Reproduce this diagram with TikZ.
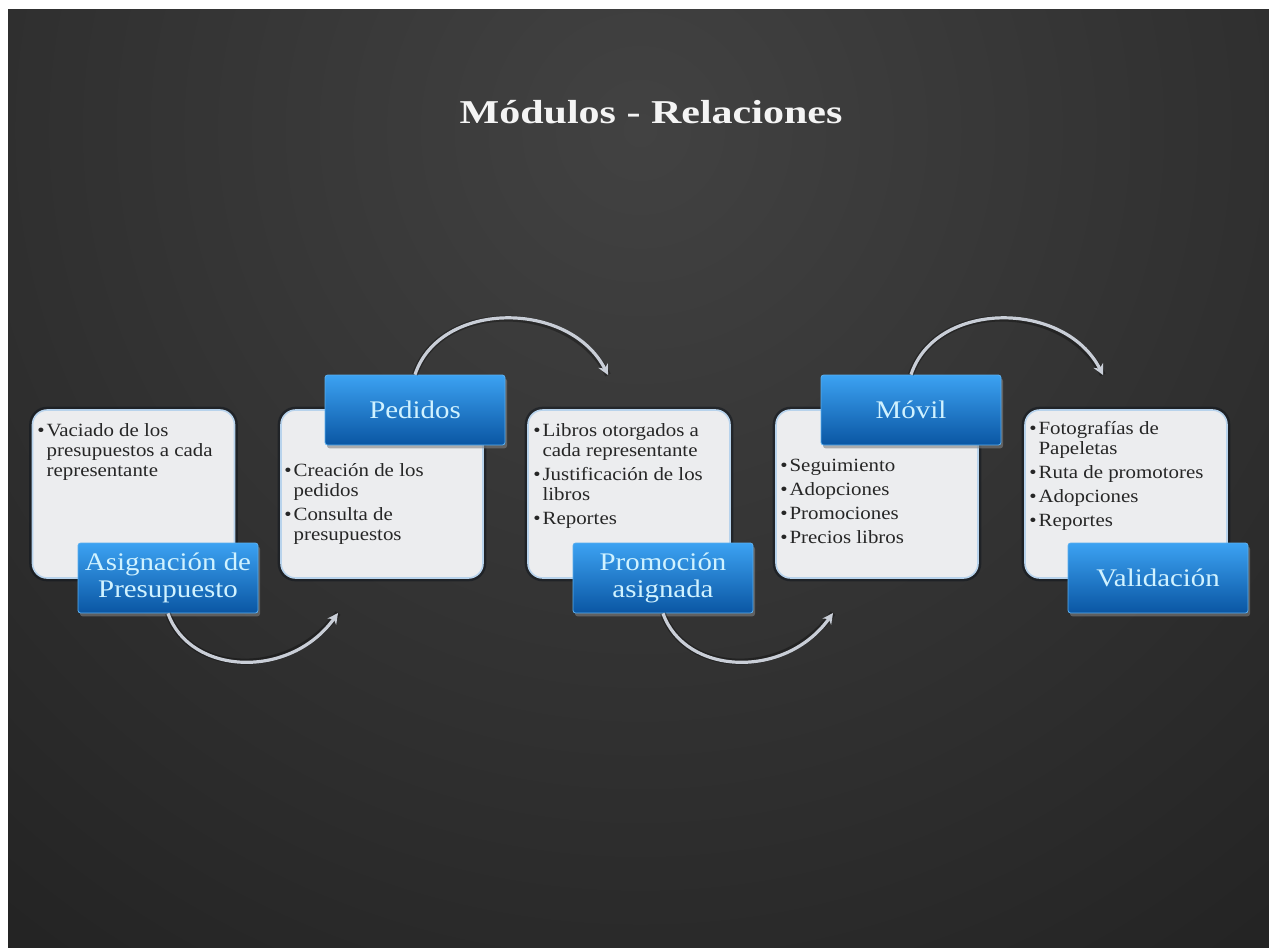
\documentclass[tikz,border=0pt]{standalone}
\usepackage{fontspec}
\setmainfont{Liberation Serif}
\newfontfamily\boxfont[FakeStretch=1.12]{Liberation Serif}
\newfontfamily\labfont[FakeStretch=1.14]{Liberation Serif}
\newfontfamily\titfont[FakeStretch=1.26]{Liberation Serif}
\usetikzlibrary{shadows,arrows.meta}
\definecolor{bgdark}{HTML}{1D1D1D}
\definecolor{bglight}{HTML}{424242}
\definecolor{boxfill}{HTML}{ECEDEF}
\definecolor{boxedge}{HTML}{B8D3EC}
\definecolor{boxglow}{HTML}{0E141C}
\definecolor{boxtext}{HTML}{262626}
\definecolor{labtop}{HTML}{3CA2F2}
\definecolor{labbot}{HTML}{0A56A3}
\definecolor{labedge}{HTML}{5AAEEE}
\definecolor{labtext}{HTML}{D0F2FF}
\definecolor{titcol}{HTML}{F4F4F4}
\definecolor{arrcol}{HTML}{C9CED7}
\newcommand\bul{\makebox[7pt][l]{•}}
\newcommand\ind{\hspace*{7pt}}
\newcommand\boxtxt[1]{\parbox[t]{160pt}{\boxfont\fontsize{14}{15}\selectfont\raggedright #1}}
\begin{document}
\begin{tikzpicture}[x=0.75pt,y=-0.75pt,
  lightbox/.style={rectangle, rounded corners=11pt, fill=boxfill, draw=boxedge, line width=1.2pt,
    minimum width=151.5pt, minimum height=126pt, inner sep=0pt,
    preaction={draw=boxglow, line width=5pt, opacity=0.5}},
  labelbox/.style={rectangle, rounded corners=2pt, top color=labtop, bottom color=labbot,
    draw=labedge, line width=0.6pt, minimum width=135pt, minimum height=52.5pt, inner sep=2pt,
    align=center, text=labtext, font=\labfont\fontsize{19}{20}\selectfont,
    drop shadow={shadow xshift=1.5pt, shadow yshift=-2.5pt, opacity=0.6}},
  bodytext/.style={anchor=base west, inner sep=0pt, text=boxtext},
  arr/.style={draw=arrcol, line width=2.4pt, -{Stealth[length=8pt,width=8pt]},
    preaction={draw=black, line width=4.5pt, opacity=0.3, -{}}}
]
\useasboundingbox (0,0) rectangle (1269,947);
\fill[white] (0,0) rectangle (1269,947);
\fill[bgdark] (8,9) rectangle (1269,947);
\begin{scope}
  \clip (8,9) rectangle (1269,947);
  \shade[inner color=bglight, outer color=bgdark] (640,130) circle [radius=1250];
\end{scope}

\node[font=\titfont\bfseries\fontsize{25}{28}\selectfont, text=titcol, anchor=base] (title) at (651,123) {Módulos - Relaciones};

\node[lightbox] (b1) at (133.5,494) {};
\node[lightbox] (b2) at (382,494) {};
\node[lightbox] (b3) at (629,494) {};
\node[lightbox] (b4) at (877,494) {};
\node[lightbox] (b5) at (1126,494) {};

\node[bodytext] (t1) at (37,436) {\boxtxt{\bul Vaciado de los\\\ind presupuestos a cada\\\ind representante}};
\node[bodytext] (t2) at (284,476) {\boxtxt{\bul Creación de los\\\ind pedidos\\[3pt]\bul Consulta de\\\ind presupuestos}};
\node[bodytext] (t3) at (533,436) {\boxtxt{\bul Libros otorgados a\\\ind cada representante\\[3pt]\bul Justificación de los\\\ind libros\\[3pt]\bul Reportes}};
\node[bodytext] (t4) at (780,471) {\boxtxt{\bul Seguimiento\\[3pt]\bul Adopciones\\[3pt]\bul Promociones\\[3pt]\bul Precios libros}};
\node[bodytext] (t5) at (1029,434) {\boxtxt{\bul Fotografías de\\\ind Papeletas\\[3pt]\bul Ruta de promotores\\[3pt]\bul Adopciones\\[3pt]\bul Reportes}};

\node[labelbox] (l1) at (168,578) {Asignación de\\Presupuesto};
\node[labelbox] (l2) at (415,410) {Pedidos};
\node[labelbox] (l3) at (663,578) {Promoción\\asignada};
\node[labelbox] (l4) at (911,410) {Móvil};
\node[labelbox] (l5) at (1158,578) {Validación};

\coordinate (e1) at (338,613);
\coordinate (e2) at (608,375);
\coordinate (e3) at (833,613);
\coordinate (e4) at (1103,375);

\draw[arr] (l1.south) .. controls +(22,62) and +(-48,67) .. (e1);
\draw[arr] (l2.north) .. controls +(25,-75) and +(-38,-75) .. (e2);
\draw[arr] (l3.south) .. controls +(22,62) and +(-48,67) .. (e3);
\draw[arr] (l4.north) .. controls +(25,-75) and +(-38,-75) .. (e4);
\end{tikzpicture}
\end{document}
